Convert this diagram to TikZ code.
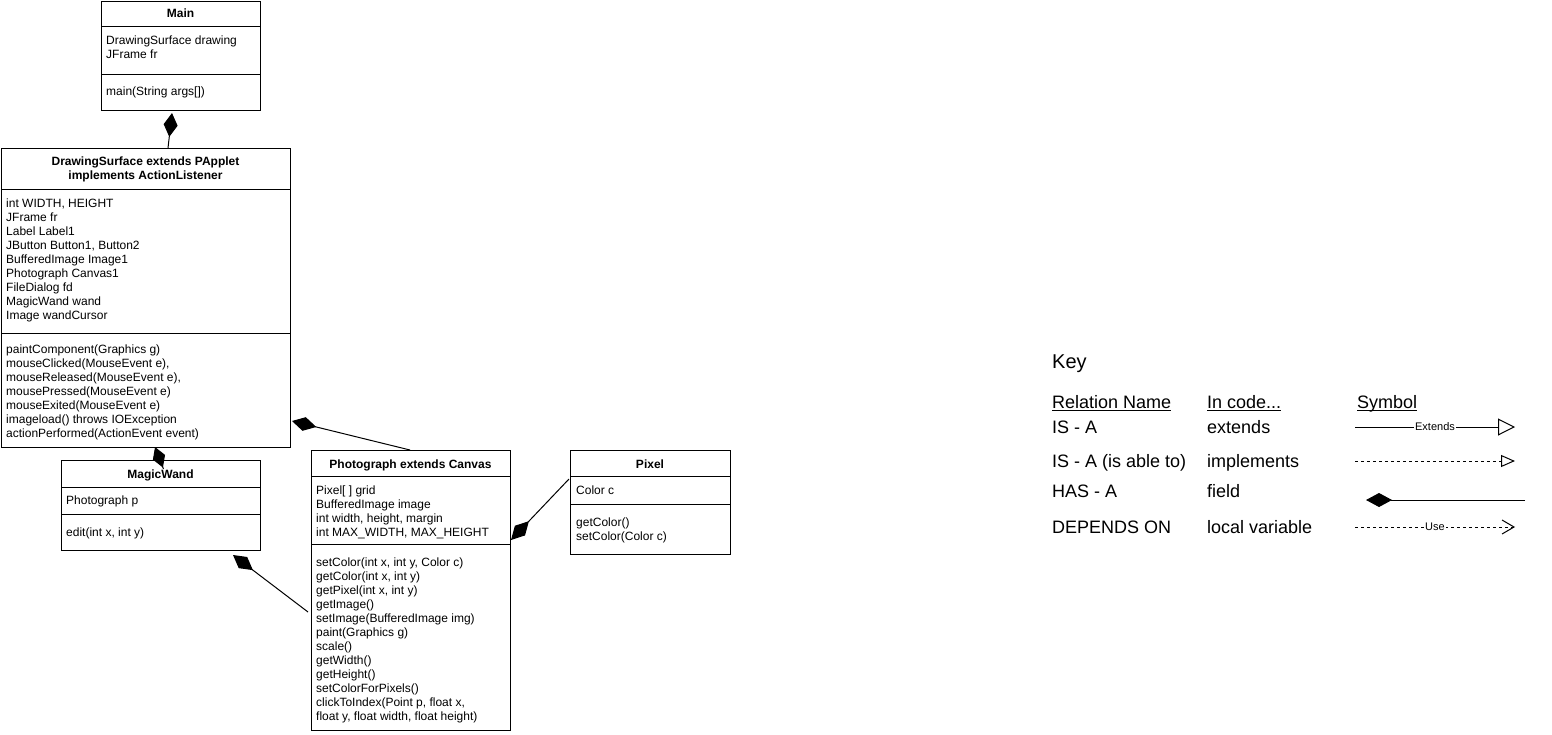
\documentclass[tikz,border=0pt]{standalone}
\usepackage{fontspec}
\setmainfont{Liberation Sans}
\usetikzlibrary{arrows.meta,calc}

% underline with a fixed offset below the baseline
\newcommand{\keyul}[1]{{\setbox0\hbox{#1}\rlap{\rule[-2.5pt]{\wd0}{1pt}}\box0}}

\begin{document}
\begin{tikzpicture}[x=1pt,y=-1pt,
  classbox/.style={draw=black, line width=1pt, fill=white, anchor=north west,
                   inner sep=0pt, outer sep=0pt},
  divider/.style={draw=black, line width=1pt},
  % multi-line texts are placed by the baseline of their last line
  hdr/.style={anchor=base, inner sep=0pt, align=center,
              font=\fontsize{12}{14}\selectfont\bfseries},
  members/.style={anchor=base west, inner sep=0pt, align=left,
                  font=\fontsize{12}{14}\selectfont},
  has/.style={draw=black, line width=1pt, -{Diamond[length=24pt,width=14pt]}},
  keytitle/.style={anchor=base west, inner sep=0pt, font=\fontsize{20}{24}\selectfont},
  keytext/.style={anchor=base west, inner sep=0pt, font=\fontsize{18}{22}\selectfont},
  symlabel/.style={fill=white, inner sep=1pt, font=\fontsize{11}{13}\selectfont},
  symline/.style={draw=black, line width=1pt},
  dashedline/.style={symline, dash pattern=on 3pt off 3pt},
]
\useasboundingbox (0,0) rectangle (1552,734);

% ---------- Main ----------
\node[classbox, minimum width=159pt, minimum height=109pt] (main) at (101,1) {};
\draw[divider] ($(main.north west)+(0,25)$) -- ($(main.north east)+(0,25)$);
\draw[divider] ($(main.north west)+(0,73)$) -- ($(main.north east)+(0,73)$);
\node[hdr] (mainH) at (180.5,17.3) {Main};
\node[members] (mainA) at (106,58.3) {DrawingSurface drawing\\JFrame fr};
\node[members] (mainM) at (106,95.3) {main(String args[])};

% ---------- DrawingSurface ----------
\node[classbox, minimum width=289pt, minimum height=299pt] (ds) at (1,148) {};
\draw[divider] ($(ds.north west)+(0,41)$) -- ($(ds.north east)+(0,41)$);
\draw[divider] ($(ds.north west)+(0,185)$) -- ($(ds.north east)+(0,185)$);
\node[hdr] (dsH) at (145.5,179.3) {DrawingSurface extends PApplet\\implements ActionListener};
\node[members] (dsA) at (6,319.3) {int WIDTH, HEIGHT\\JFrame fr\\Label Label1\\JButton Button1, Button2\\BufferedImage Image1\\Photograph Canvas1\\FileDialog fd\\MagicWand wand\\Image wandCursor};
\node[members] (dsM) at (6,437.3) {paintComponent(Graphics g)\\mouseClicked(MouseEvent e),\\mouseReleased(MouseEvent e),\\mousePressed(MouseEvent e)\\mouseExited(MouseEvent e)\\imageload() throws IOException\\actionPerformed(ActionEvent event)};

% ---------- MagicWand ----------
\node[classbox, minimum width=199pt, minimum height=90pt] (mw) at (61,460) {};
\draw[divider] ($(mw.north west)+(0,27)$) -- ($(mw.north east)+(0,27)$);
\draw[divider] ($(mw.north west)+(0,54)$) -- ($(mw.north east)+(0,54)$);
\node[hdr] (mwH) at (160.5,478.3) {MagicWand};
\node[members] (mwA) at (66,504.3) {Photograph p};
\node[members] (mwM) at (66,536.3) {edit(int x, int y)};

% ---------- Photograph ----------
\node[classbox, minimum width=199pt, minimum height=280pt] (ph) at (311,450) {};
\draw[divider] ($(ph.north west)+(0,26)$) -- ($(ph.north east)+(0,26)$);
\draw[divider] ($(ph.north west)+(0,94)$) -- ($(ph.north east)+(0,94)$);
\node[hdr] (phH) at (410.5,468.3) {Photograph extends Canvas};
\node[members] (phA) at (316,536.3) {Pixel[ ] grid\\BufferedImage image\\int width, height, margin\\int MAX\_WIDTH, MAX\_HEIGHT};
\node[members] (phM) at (316,720.3) {setColor(int x, int y, Color c)\\getColor(int x, int y)\\getPixel(int x, int y)\\getImage()\\setImage(BufferedImage img)\\paint(Graphics g)\\scale()\\getWidth()\\getHeight()\\setColorForPixels()\\clickToIndex(Point p, float x,\\float y, float width, float height)};

% ---------- Pixel ----------
\node[classbox, minimum width=160pt, minimum height=104pt] (px) at (570,450) {};
\draw[divider] ($(px.north west)+(0,26)$) -- ($(px.north east)+(0,26)$);
\draw[divider] ($(px.north west)+(0,54)$) -- ($(px.north east)+(0,54)$);
\node[hdr] (pxH) at (650,468.3) {Pixel};
\node[members] (pxA) at (576,494.3) {Color c};
\node[members] (pxM) at (576,540.3) {getColor()\\setColor(Color c)};

% ---------- composition connectors (diamond at the owner) ----------
\draw[has] ($(ds.north west)+(167,0)$) -- ($(main.south west)+(71,3)$);
\draw[has, -{Diamond[length=22pt,width=13pt]}] ($(mw.north west)+(102.5,9)$) -- ($(ds.south west)+(154,0)$);
\draw[has, -{Diamond[length=25pt,width=14pt]}] ($(ph.north west)+(99,0)$) -- ($(ds.north east)+(2,273)$);
\draw[has, -{Diamond[length=25pt,width=14pt]}] ($(ph.north west)+(-3,162)$) -- ($(mw.south west)+(172,5)$);
\draw[has, -{Diamond[length=26pt,width=14pt]}] ($(px.north west)+(-1,29)$) -- ($(ph.north east)+(1,90)$);

% ---------- Key ----------
\node[keytitle] (keyT) at (1052,368.5) {Key};
\node[keytext] (kh1) at (1052,408) {\keyul{Relation Name}};
\node[keytext] (kh2) at (1207,408) {\keyul{In code...}};
\node[keytext] (kh3) at (1357,408) {\keyul{Symbol}};

\node[keytext] (r1a) at (1052,433.5) {IS - A};
\node[keytext] (r1b) at (1207,433.5) {extends};
\node[keytext] (r2a) at (1052,467.5) {IS - A (is able to)};
\node[keytext] (r2b) at (1207,467.5) {implements};
\node[keytext] (r3a) at (1052,497.5) {HAS - A};
\node[keytext] (r3b) at (1207,497.5) {field};
\node[keytext] (r4a) at (1052,533.5) {DEPENDS ON};
\node[keytext] (r4b) at (1207,533.5) {local variable};

\coordinate (extA) at (1355,427);
\coordinate (extB) at (1515,427);
\coordinate (impA) at (1355,461);
\coordinate (impB) at (1515,461);
\coordinate (hasA) at (1525,500);
\coordinate (hasB) at (1366,500);
\coordinate (useA) at (1355,527);
\coordinate (useB) at (1515,527);

\draw[symline, -{Triangle[open,length=17pt,width=17pt]}] (extA) -- node[symlabel, pos=0.5] (extL) {Extends} (extB);
\draw[dashedline, -{Triangle[open,length=14pt,width=12pt]}] (impA) -- (impB);
\draw[symline, -{Diamond[length=26pt,width=14pt]}] (hasA) -- (hasB);
\draw[dashedline, -{Straight Barb[length=12pt,width=14pt]}] (useA) -- node[symlabel, pos=0.5] (useL) {Use} (useB);

\end{tikzpicture}
\end{document}
